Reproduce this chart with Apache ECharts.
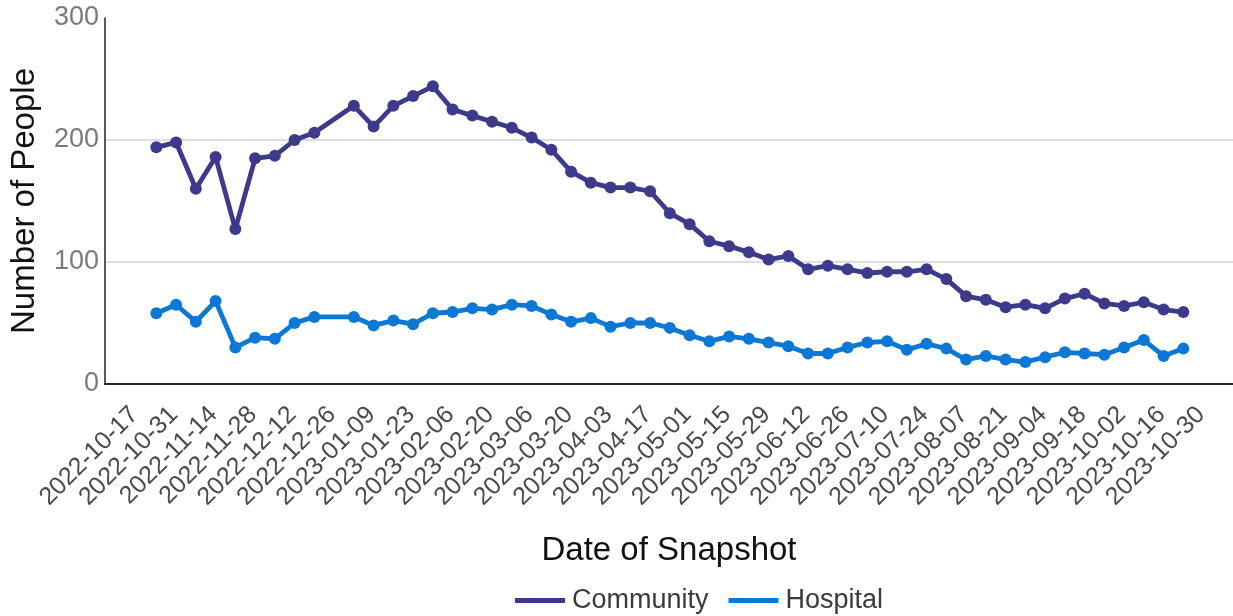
<!DOCTYPE html>
<html>
<head>
<meta charset="utf-8">
<title>Number of People by Date of Snapshot</title>
<script src="https://cdn.jsdelivr.net/npm/echarts@6/dist/echarts.min.js"></script>
<style>
  html, body { margin: 0; padding: 0; background: #ffffff; }
  #chart { width: 1233px; height: 616px; }
</style>
</head>
<body>
<div id="chart"></div>
<script>
// Weekly snapshot dates (no snapshot for 2022-12-19)
const snapshotDates = [
  '2022-10-17','2022-10-24','2022-10-31','2022-11-07','2022-11-14','2022-11-21','2022-11-28',
  '2022-12-05','2022-12-12','2022-12-26','2023-01-02','2023-01-09','2023-01-16','2023-01-23',
  '2023-01-30','2023-02-06','2023-02-13','2023-02-20','2023-02-27','2023-03-06','2023-03-13',
  '2023-03-20','2023-03-27','2023-04-03','2023-04-10','2023-04-17','2023-04-24','2023-05-01',
  '2023-05-08','2023-05-15','2023-05-22','2023-05-29','2023-06-05','2023-06-12','2023-06-19',
  '2023-06-26','2023-07-03','2023-07-10','2023-07-17','2023-07-24','2023-07-31','2023-08-07',
  '2023-08-14','2023-08-21','2023-08-28','2023-09-04','2023-09-11','2023-09-18','2023-09-25',
  '2023-10-02','2023-10-09','2023-10-16'
];

const community = [
  194, 198, 160, 186, 127, 185, 187, 200, 206, 228, 211, 228, 236,
  244, 225, 220, 215, 210, 202, 192, 174, 165, 161, 161, 158, 140,
  131, 117, 113, 108, 102, 105, 94, 97, 94, 91, 92, 92, 94,
  86, 72, 69, 63, 65, 62, 70, 74, 66, 64, 67, 61, 59
];

const hospital = [
  58, 65, 51, 68, 30, 38, 37, 50, 55, 55, 48, 52, 49,
  58, 59, 62, 61, 65, 64, 57, 51, 54, 47, 50, 50, 46,
  40, 35, 39, 37, 34, 31, 25, 25, 30, 34, 35, 28, 33,
  29, 20, 23, 20, 18, 22, 26, 25, 24, 30, 36, 23, 29
];

// Fortnightly axis labels
const tickDates = [
  '2022-10-17','2022-10-31','2022-11-14','2022-11-28','2022-12-12','2022-12-26',
  '2023-01-09','2023-01-23','2023-02-06','2023-02-20','2023-03-06','2023-03-20',
  '2023-04-03','2023-04-17','2023-05-01','2023-05-15','2023-05-29','2023-06-12',
  '2023-06-26','2023-07-10','2023-07-24','2023-08-07','2023-08-21','2023-09-04',
  '2023-09-18','2023-10-02','2023-10-16','2023-10-30'
];

const seriesNames = ['Community', 'Hospital'];
const seriesColors = ['#3d3a8c', '#0a78d4'];

const DAY = 86400000;
const toTime = s => {
  const [y, m, d] = s.split('-').map(Number);
  return Date.UTC(y, m - 1, d);
};
const pad2 = n => (n < 10 ? '0' : '') + n;
const fmtDate = t => {
  const d = new Date(t);
  return d.getUTCFullYear() + '-' + pad2(d.getUTCMonth() + 1) + '-' + pad2(d.getUTCDate());
};

// The x axis counts days from the first snapshot
const originTime = toTime(snapshotDates[0]);
const toDay = s => Math.round((toTime(s) - originTime) / DAY);
const dayLabel = v => fmtDate(originTime + Math.round(v) * DAY);
const lastDay = toDay(snapshotDates[snapshotDates.length - 1]);

const pairs = vals => snapshotDates.map((s, i) => [toDay(s), vals[i]]);

const FONT = '"Liberation Sans", Arial, sans-serif';

const chart = echarts.init(document.getElementById('chart'), null, { renderer: 'canvas' });

chart.setOption({
  animation: false,
  backgroundColor: '#ffffff',
  textStyle: { fontFamily: FONT },
  grid: { left: 102, right: 0, top: 18, bottom: 232, containLabel: false },
  legend: {
    data: seriesNames,
    left: 510,
    top: 582,
    icon: 'rect',
    itemWidth: 50,
    itemHeight: 5,
    itemGap: 20,
    textStyle: { fontFamily: FONT, fontSize: 27, color: '#3a3a3a', padding: [0, 0, 0, 2] }
  },
  xAxis: {
    type: 'value',
    min: -18.2,
    max: lastDay + 17.6,
    name: 'Date of Snapshot',
    nameLocation: 'middle',
    nameGap: 150,
    nameTextStyle: { fontFamily: FONT, fontSize: 33, color: '#111111' },
    axisLine: { show: true, onZero: false, lineStyle: { color: '#222222', width: 2 } },
    axisTick: { show: false },
    splitLine: { show: false },
    axisLabel: {
      customValues: tickDates.map(toDay),
      formatter: v => dayLabel(v),
      rotate: 45,
      fontSize: 25,
      fontFamily: FONT,
      color: '#4a4a4a',
      margin: 5,
      padding: [0, 31, 0, 0],
      hideOverlap: false,
      showMinLabel: true,
      showMaxLabel: true
    }
  },
  yAxis: {
    type: 'value',
    min: 0,
    max: 300,
    interval: 100,
    name: 'Number of People',
    nameLocation: 'middle',
    nameGap: 64,
    nameTextStyle: { fontFamily: FONT, fontSize: 33, color: '#111111' },
    axisLine: { show: true, onZero: false, lineStyle: { color: '#222222', width: 1.5 } },
    axisTick: { show: false },
    axisLabel: { fontSize: 27, fontFamily: FONT, color: '#7a7a7a', margin: 6 },
    splitLine: { show: true, showMaxLine: false, lineStyle: { color: '#d2d2d2', width: 1.5 } }
  },
  series: [community, hospital].map((vals, i) => ({
    name: seriesNames[i],
    type: 'line',
    data: pairs(vals),
    symbol: 'circle',
    symbolSize: 12,
    showAllSymbol: true,
    itemStyle: { color: seriesColors[i] },
    lineStyle: { color: seriesColors[i], width: 4.8 },
    emphasis: { disabled: true }
  }))
});
</script>
</body>
</html>
